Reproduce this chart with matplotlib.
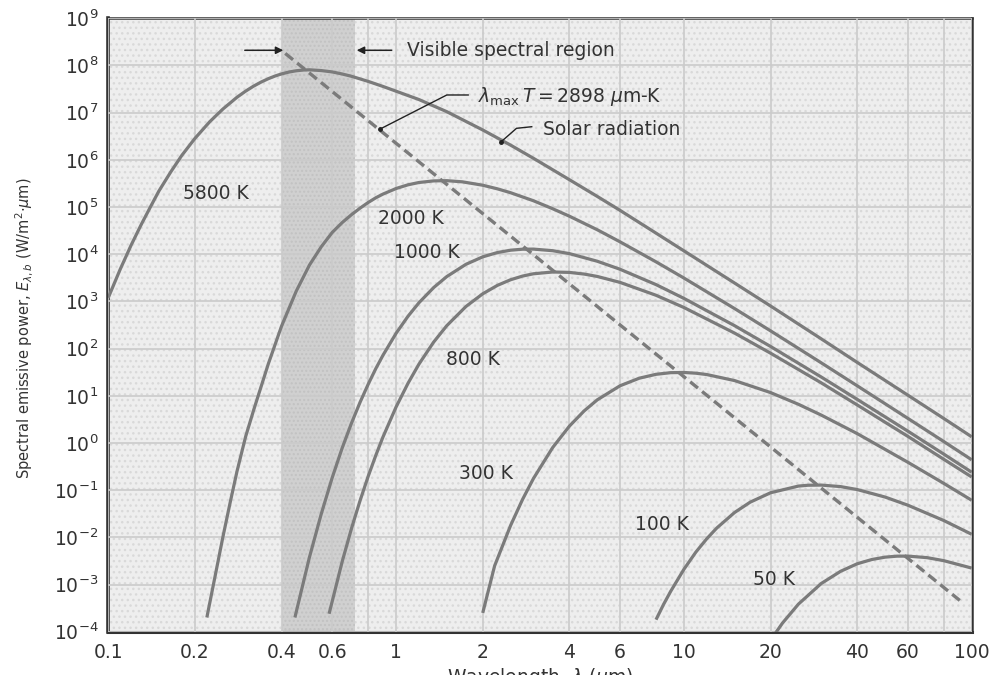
import matplotlib
matplotlib.use("Agg")
import matplotlib.pyplot as plt
from matplotlib.patches import Rectangle
from matplotlib.ticker import FixedLocator, NullFormatter, NullLocator

plt.rcParams['font.family'] = 'DejaVu Sans'
plt.rcParams['mathtext.fontset'] = 'dejavusans'

# blackbody curves: wavelength (um) -> spectral emissive power (W/m^2-um)
wl_5800 = [0.1, 0.11, 0.12, 0.13, 0.14, 0.15, 0.165, 0.18, 0.2, 0.225, 0.25, 0.28, 0.3, 0.32,
           0.34, 0.36, 0.38, 0.4, 0.425, 0.45, 0.475, 0.5, 0.55, 0.6, 0.65, 0.7, 0.8, 0.9,
           1.0, 1.2, 1.5, 2, 2.5, 3, 4, 5, 6, 8, 10, 15, 20, 30, 40, 60, 80, 100]
ep_5800 = [1.2e3, 4.8e3, 1.55e4, 4.2e4, 1.0e5, 2.2e5, 5.6e5, 1.24e6, 2.85e6, 6.4e6, 1.19e7,
           2.12e7, 2.86e7, 3.66e7, 4.47e7, 5.26e7, 5.99e7, 6.63e7, 7.28e7, 7.73e7, 8.0e7,
           8.1e7, 7.8e7, 7.3e7, 6.6e7, 5.9e7, 4.6e7, 3.6e7, 2.85e7, 1.9e7, 1.05e7, 4.3e6,
           2.05e6, 1.08e6, 3.8e5, 1.68e5, 8.5e4, 2.8e4, 1.18e4, 2.45e3, 800, 161, 51, 10.3,
           3.3, 1.35]

wl_2000 = [0.22, 0.235, 0.25, 0.265, 0.28, 0.3, 0.32, 0.36, 0.4, 0.45, 0.5, 0.55, 0.6, 0.65,
           0.7, 0.75, 0.8, 0.85, 0.9, 1.0, 1.1, 1.2, 1.35, 1.5, 1.7, 2.0, 2.25, 2.5, 3, 3.5,
           4, 5, 6, 8, 10, 15, 20, 30, 40, 60, 80, 100]
ep_2000 = [2.0e-4, 1.5e-3, 1.0e-2, 0.054, 0.25, 1.36, 5.0, 48, 300, 1.66e3, 5.9e3, 1.45e4,
           2.9e4, 4.7e4, 6.9e4, 9.5e4, 1.25e5, 1.57e5, 1.88e5, 2.47e5, 2.96e5, 3.31e5,
           3.58e5, 3.62e5, 3.42e5, 2.9e5, 2.43e5, 2.01e5, 1.36e5, 9.2e4, 6.4e4, 3.3e4,
           1.83e4, 6.9e3, 3.13e3, 705, 238, 50, 16.3, 3.32, 1.07, 0.44]

wl_1000 = [0.445, 0.5, 0.55, 0.6, 0.65, 0.7, 0.75, 0.8, 0.85, 0.9, 1.0, 1.1, 1.2, 1.35, 1.5,
           1.75, 2, 2.25, 2.5, 2.75, 3, 3.5, 4, 5, 6, 8, 10, 15, 20, 30, 40, 60, 80, 100]
ep_1000 = [2.0e-4, 3.8e-3, 0.032, 0.185, 0.79, 2.64, 7.35, 17.6, 37.6, 72, 211, 485, 933,
           1.96e3, 3.36e3, 6.13e3, 8.8e3, 1.086e4, 1.217e4, 1.278e4, 1.284e4, 1.188e4,
           1.03e4, 7.1e3, 4.8e3, 2.27e3, 1.16e3, 306, 111, 25, 8.4, 1.78, 0.58, 0.24]

wl_800 = [0.585, 0.65, 0.7, 0.75, 0.8, 0.85, 0.9, 1.0, 1.1, 1.2, 1.35, 1.5, 1.75, 2, 2.25,
          2.5, 2.75, 3, 3.5, 4, 4.5, 5, 6, 8, 10, 15, 20, 30, 40, 60, 80, 100]
ep_800 = [2.4e-4, 3.1e-3, 0.0155, 0.0607, 0.197, 0.545, 1.33, 5.8, 18.4, 46.6, 137, 306, 783,
          1.45e3, 2.19e3, 2.88e3, 3.44e3, 3.85e3, 4.2e3, 4.12e3, 3.8e3, 3.38e3, 2.53e3,
          1.35e3, 743, 213, 80, 18.8, 6.4, 1.38, 0.45, 0.19]

wl_300 = [2.0, 2.2, 2.5, 2.75, 3, 3.5, 4, 4.5, 5, 6, 7, 8, 9, 10, 11, 12, 15, 20, 25, 30, 40,
          60, 80, 100]
ep_300 = [2.5e-4, 2.5e-3, 0.0179, 0.0635, 0.176, 0.80, 2.27, 4.77, 8.2, 16.3, 23.6, 28.5,
          30.9, 31.2, 30.1, 28.2, 21.0, 11.7, 6.6, 3.9, 1.58, 0.39, 0.139, 0.061]

wl_100 = [8.0, 8.5, 9, 10, 11, 12, 13, 15, 17, 20, 25, 27, 30, 35, 40, 50, 60, 80, 100]
ep_100 = [1.8e-4, 3.8e-4, 7.2e-4, 2.1e-3, 4.85e-3, 9.3e-3, 0.0157, 0.0336, 0.0557, 0.088,
          0.122, 0.127, 0.128, 0.119, 0.103, 0.0714, 0.048, 0.0227, 0.0116]

wl_50 = [20, 22, 25, 30, 35, 40, 45, 50, 55, 60, 70, 80, 100]
ep_50 = [6.6e-5, 1.52e-4, 3.84e-4, 1.05e-3, 1.9e-3, 2.75e-3, 3.39e-3, 3.8e-3, 3.99e-3, 4.0e-3,
         3.71e-3, 3.2e-3, 2.23e-3]

# locus of the peaks (lambda_max * T = 2898 um-K)
wl_peak = [0.412, 90.9]
ep_peak = [1.8e8, 4.6e-4]

# visible band limits (um)
visible = [0.4, 0.72]

xtick_vals = [0.1, 0.2, 0.4, 0.6, 1, 2, 4, 6, 10, 20, 40, 60, 100]
xtick_labels = ['0.1', '0.2', '0.4', '0.6', '1', '2', '4', '6', '10', '20', '40', '60', '100']
ytick_exp = list(range(-4, 10))

curve_col = '#7b7b7b'
text_col = '#333333'

fig = plt.figure(figsize=(9.95, 6.75), dpi=100)
ax = fig.add_axes([108.3 / 995, 1 - 631.7 / 675, (971.7 - 108.3) / 995, (631.7 - 18.3) / 675])
ax.set_xscale('log')
ax.set_yscale('log')
ax.set_xlim(0.1, 100)
ax.set_ylim(1e-4, 1e9)

# stippled paper background
ax.set_facecolor('#eeeeee')
ax.add_patch(Rectangle((0, 0), 1, 1, transform=ax.transAxes, facecolor='none',
                       edgecolor='#d9d9d9', hatch='...', lw=0, zorder=0.2))
ax.axvspan(visible[0], visible[1], facecolor='#d0d0d0', edgecolor='#c2c2c2',
           hatch='....', lw=0, zorder=1)

# grid
ax.set_axisbelow(False)
ax.xaxis.set_major_locator(FixedLocator(xtick_vals))
ax.set_xticklabels(xtick_labels)
ax.xaxis.set_minor_locator(FixedLocator([0.8, 80]))
ax.xaxis.set_minor_formatter(NullFormatter())
ax.set_yticks([10.0 ** n for n in ytick_exp])
ax.set_yticklabels(['$10^{%d}$' % n for n in ytick_exp])
ax.yaxis.set_minor_locator(NullLocator())
ax.grid(True, which='both', axis='x', color='#cbcbcb', lw=1.2)
ax.grid(True, which='major', axis='y', color='#cbcbcb', lw=1.2)
ax.tick_params(which='both', length=0, labelsize=13.5, labelcolor=text_col)
ax.tick_params(axis='x', pad=8)
ax.tick_params(axis='y', pad=7)

for s in ax.spines.values():
    s.set_color('#333333')
    s.set_linewidth(1.8)
ax.spines['left'].set_linewidth(2.6)
ax.spines['bottom'].set_linewidth(2.2)

curves = [(wl_5800, ep_5800), (wl_2000, ep_2000), (wl_1000, ep_1000), (wl_800, ep_800),
          (wl_300, ep_300), (wl_100, ep_100), (wl_50, ep_50)]
for wl, ep in curves:
    ax.plot(wl, ep, color=curve_col, lw=2.3, solid_capstyle='butt',
            solid_joinstyle='round', zorder=3)

ax.plot(wl_peak, ep_peak, color=curve_col, lw=2.4, dashes=(3, 1.6), zorder=3)

# curve labels
lab_kw = dict(fontsize=13.5, color=text_col, ha='center', va='center', zorder=4)
ax.text(0.236, 1.95e5, '5800 K', **lab_kw)
ax.text(1.127, 5.65e4, '2000 K', **lab_kw)
ax.text(1.281, 1.08e4, '1000 K', **lab_kw)
ax.text(1.845, 60, '800 K', **lab_kw)
ax.text(2.053, 0.225, '300 K', **lab_kw)
ax.text(8.39, 0.0191, '100 K', **lab_kw)
ax.text(20.6, 1.3e-3, '50 K', **lab_kw)

# visible region arrows
arr = dict(arrowstyle='-|>', color='#222222', lw=1.1, mutation_scale=11, shrinkA=0, shrinkB=0)
ax.annotate('', xy=(0.4055, 2.1e8), xytext=(0.298, 2.1e8), arrowprops=arr, zorder=4)
ax.annotate('', xy=(0.73, 2.1e8), xytext=(0.965, 2.1e8), arrowprops=arr, zorder=4)
ax.text(1.09, 2.1e8, 'Visible spectral region', fontsize=13.5, color=text_col,
        ha='left', va='center', zorder=4)

# leader for the peak locus
ax.plot([0.88, 1.50, 1.78], [4.5e6, 2.37e7, 2.37e7], color='#222222', lw=1.0, zorder=4)
ax.plot([0.88], [4.5e6], 'o', color='#222222', ms=2.5, zorder=4)
ax.text(1.93, 2.2e7, r'$\lambda_{\rm max}\,T = 2898\ \mu$m-K', fontsize=13.5,
        color=text_col, ha='left', va='center', zorder=4)

# leader for solar radiation
ax.plot([2.32, 2.62, 2.96], [2.43e6, 4.66e6, 5.04e6], color='#222222', lw=1.0, zorder=4)
ax.plot([2.32], [2.43e6], 'o', color='#222222', ms=2.5, zorder=4)
ax.text(3.24, 4.3e6, 'Solar radiation', fontsize=13.5, color=text_col,
        ha='left', va='center', zorder=4)

fig.text(0.024, 0.514, r'Spectral emissive power, $E_{\lambda,b}$ (W/m$^2$$\cdot\mu$m)',
         rotation=90, ha='center', va='center', fontsize=10.5, color=text_col)
fig.text(0.5427, 0.0133, r'Wavelength, $\lambda$ ($\mu$m)', ha='center', va='top',
         fontsize=13.5, color=text_col)

fig.savefig('out.png', dpi=100)
